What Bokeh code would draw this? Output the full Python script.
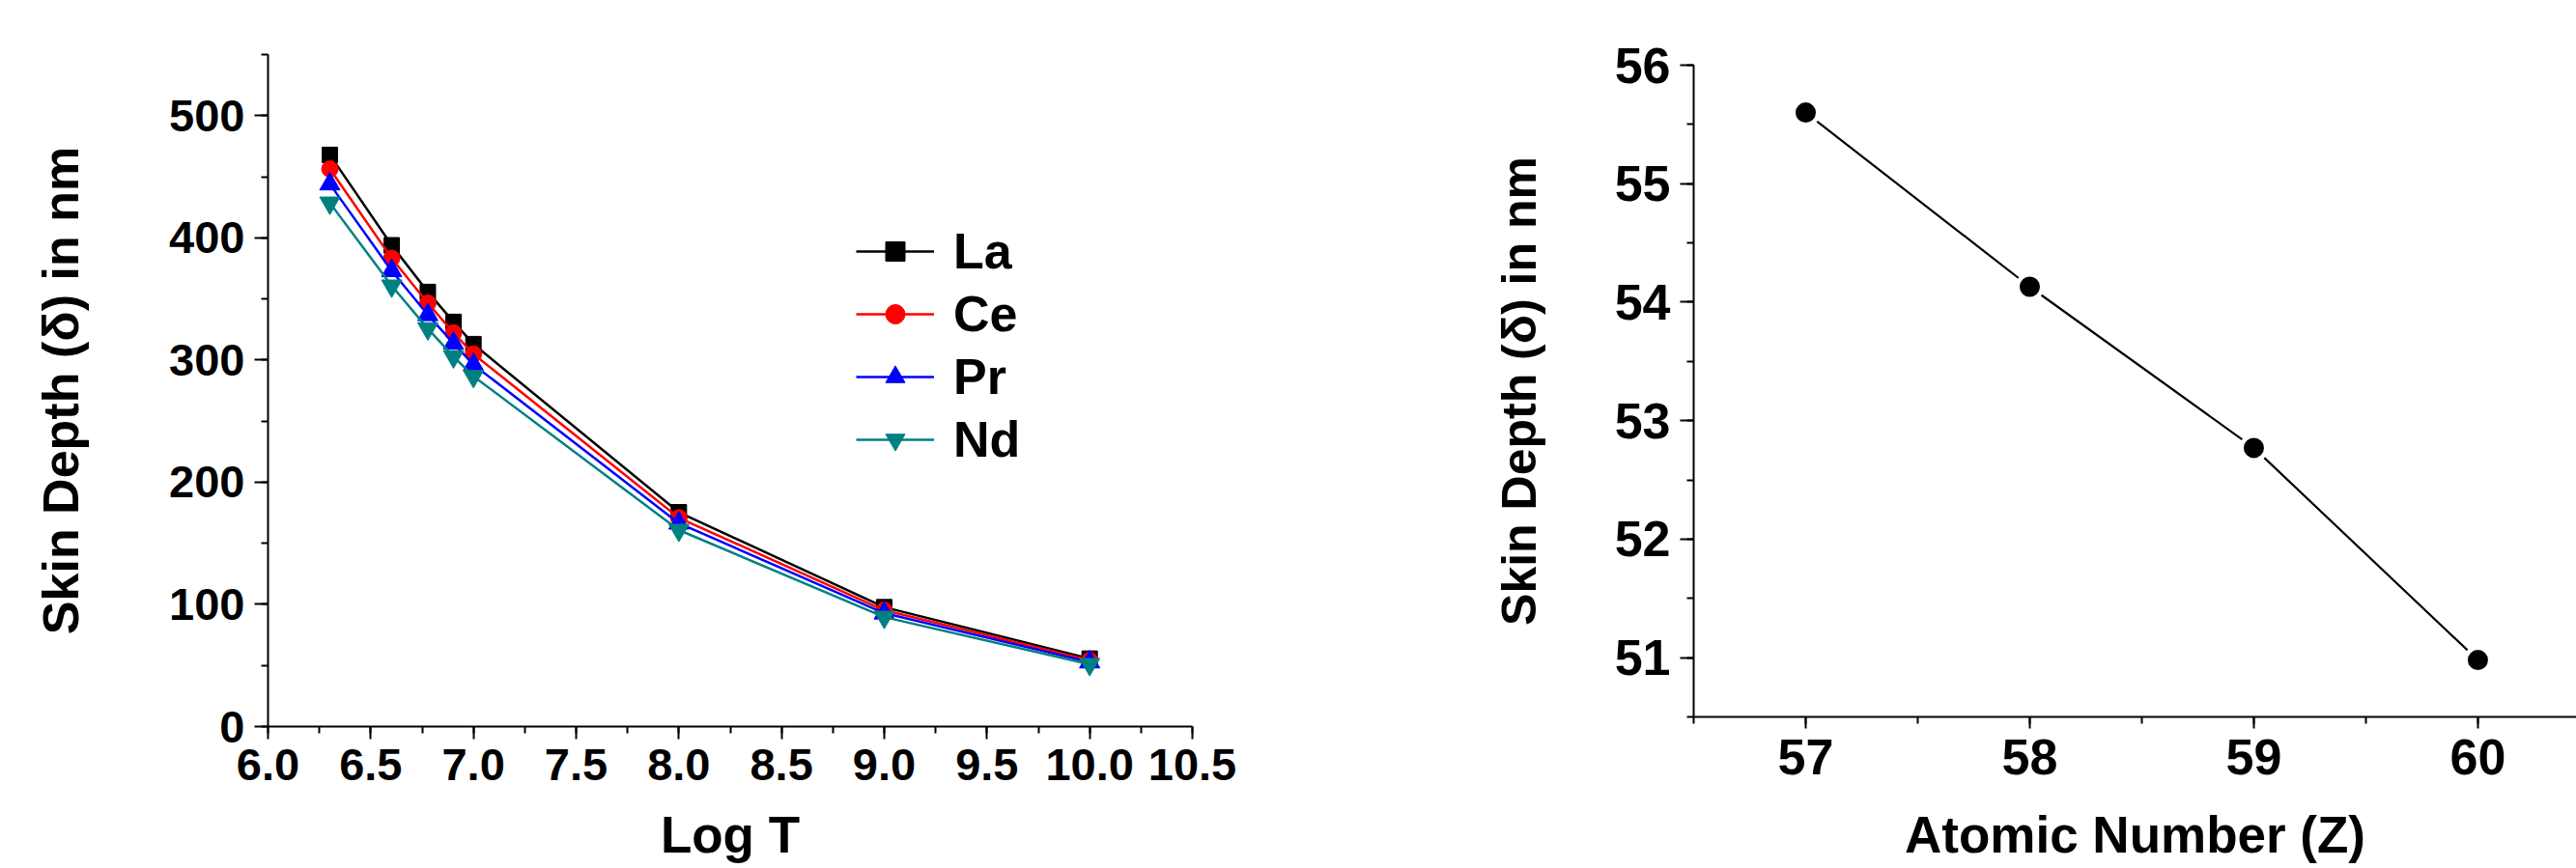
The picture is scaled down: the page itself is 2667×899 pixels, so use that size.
from bokeh.plotting import figure
from bokeh.layouts import row, column
from bokeh.models import (SingleIntervalTicker, NumeralTickFormatter, Legend,
                          LegendItem, Range1d)
from bokeh.embed import file_html
from bokeh.resources import INLINE

# ---------------- data ----------------
log_t = [6.301, 6.602, 6.778, 6.903, 7.0, 8.0, 9.0, 10.0]
la = [467.9, 393.9, 355.7, 331.2, 313.0, 175.4, 97.7, 55.60]
ce = [456.3, 383.3, 346.5, 322.3, 304.9, 170.8, 95.2, 54.13]
pr = [444.0, 373.0, 337.0, 313.6, 296.2, 166.4, 92.8, 52.77]
nd = [428.6, 360.7, 325.7, 302.8, 286.7, 160.8, 89.6, 50.98]
series_names = ["La", "Ce", "Pr", "Nd"]

atomic_z = [57, 58, 59, 60]
skin_depth_z = [55.60, 54.13, 52.77, 50.98]

FONT = "Liberation Sans"


def style_axes(p, tick_size, title_size_x, title_size_y):
    p.xgrid.visible = False
    p.ygrid.visible = False
    p.outline_line_color = None
    p.background_fill_color = "white"
    for ax in (p.xaxis[0], p.yaxis[0]):
        ax.axis_line_width = 2
        ax.axis_line_color = "black"
        ax.major_tick_line_width = 2
        ax.minor_tick_line_width = 2
        ax.major_tick_line_color = "black"
        ax.minor_tick_line_color = "black"
        ax.major_tick_in = 0
        ax.minor_tick_in = 0
        ax.major_tick_out = 13
        ax.minor_tick_out = 7
        ax.major_label_text_font = FONT
        ax.major_label_text_font_style = "bold"
        ax.major_label_text_font_size = tick_size
        ax.major_label_text_color = "black"
        ax.axis_label_text_font = FONT
        ax.axis_label_text_font_style = "bold"
        ax.axis_label_text_color = "black"
    p.xaxis[0].axis_label_text_font_size = title_size_x
    p.yaxis[0].axis_label_text_font_size = title_size_y


# ---------------- left chart ----------------
p1 = figure(width=1450, height=899, x_range=Range1d(6.0, 10.5),
            y_range=Range1d(0, 550), output_backend="svg",
            toolbar_location=None, min_border_left=277, min_border_right=216,
            min_border_top=56, min_border_bottom=147)
style_axes(p1, "47px", "53px", "52px")
p1.xaxis.ticker = SingleIntervalTicker(interval=0.5, num_minor_ticks=2)
p1.xaxis.formatter = NumeralTickFormatter(format="0.0")
p1.yaxis.ticker = SingleIntervalTicker(interval=100, num_minor_ticks=2)
p1.xaxis.axis_label = "Log T"
p1.yaxis.axis_label = "Skin Depth (δ) in nm"
p1.yaxis.major_tick_out = 14
p1.xaxis.major_label_standoff = 10
p1.yaxis.major_label_standoff = 10
p1.xaxis.axis_label_standoff = 24
p1.yaxis.axis_label_standoff = 80

styles = [
    ("black", "square", 16),
    ("red", "circle", 17),
    ("blue", "triangle", 21),
    ("#008080", "inverted_triangle", 21),
]
items = []
for name, ys, (color, marker, size) in zip(series_names, [la, ce, pr, nd], styles):
    r_line = p1.line(log_t, ys, line_color=color, line_width=2.5)
    r_pts = p1.scatter(log_t, ys, marker=marker, size=size,
                       fill_color=color, line_color=color)
    items.append(LegendItem(label=name, renderers=[r_line, r_pts]))

legend = Legend(items=items, location=(609, 267), orientation="vertical",
                glyph_width=81, glyph_height=50, label_height=50,
                spacing=5, padding=0, margin=0, label_standoff=20,
                label_text_font=FONT, label_text_font_style="bold",
                label_text_font_size="52px", label_text_color="black",
                border_line_color=None, background_fill_alpha=0)
p1.add_layout(legend)

# ---------------- right chart ----------------
p2 = figure(width=1217, height=899, x_range=Range1d(56.5, 60.44),
            y_range=Range1d(50.5, 56.0), output_backend="svg",
            toolbar_location=None, min_border_left=303, min_border_right=0,
            min_border_top=67, min_border_bottom=157)
style_axes(p2, "52px", "53px", "50px")
p2.xaxis.ticker = SingleIntervalTicker(interval=1, num_minor_ticks=2)
p2.yaxis.ticker = SingleIntervalTicker(interval=1, num_minor_ticks=2)
p2.xaxis.axis_label = "Atomic Number (Z)"
p2.yaxis.axis_label = "Skin Depth (δ) in nm"
p2.xaxis.major_tick_out = 12
p2.yaxis.major_tick_out = 14
p2.xaxis.major_label_standoff = 11
p2.yaxis.major_label_standoff = 10
p2.xaxis.axis_label_standoff = 30
p2.yaxis.axis_label_standoff = 68

p2.line(atomic_z, skin_depth_z, line_color="black", line_width=2.2)
p2.scatter(atomic_z, skin_depth_z, marker="circle", size=25.5,
           fill_color="black", line_color="white", line_width=4.5)

layout = row(column(p1), column(p2))
open("out.html", "w").write(file_html(layout, INLINE))
